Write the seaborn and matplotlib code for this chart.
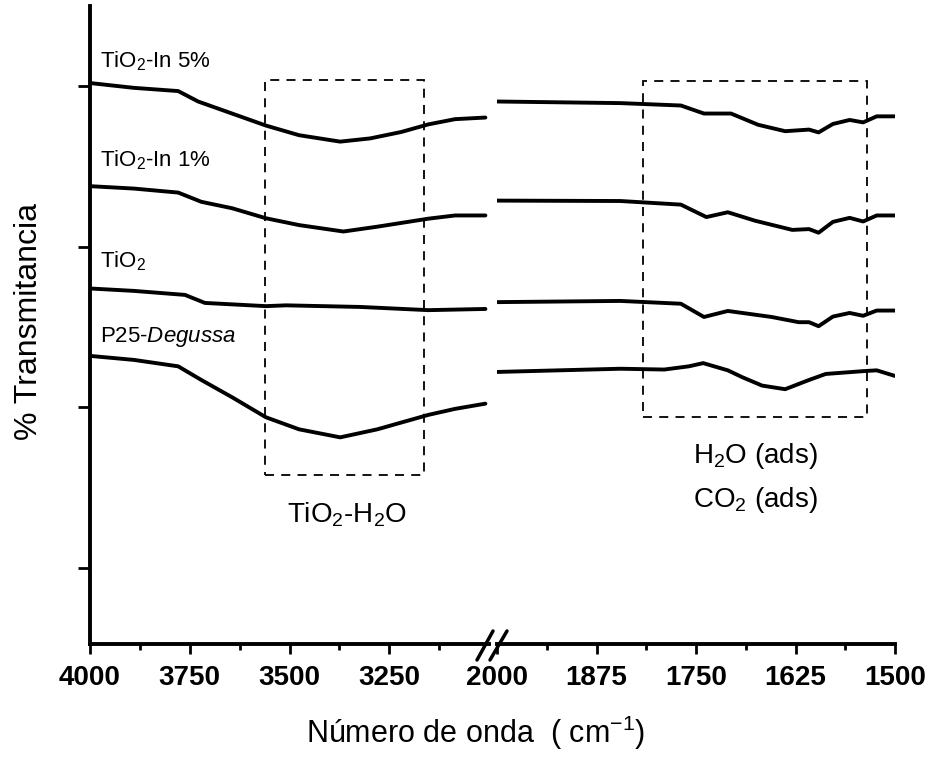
import matplotlib
matplotlib.use('Agg')
import pandas as pd
import matplotlib.pyplot as plt
import seaborn as sns
from matplotlib.lines import Line2D
from matplotlib.patches import Rectangle

#### datos (FTIR) ####
muestras = ['In5', 'In1', 'TiO2', 'P25']

# región 4000 - 3000 cm-1
wn_a_In5 = [4000, 3890, 3779, 3729, 3661, 3559, 3476, 3373, 3298, 3220, 3152, 3085, 3009]
t_a_In5 = [100.4, 99.8, 99.4, 98.1, 96.9, 95.1, 93.9, 93.1, 93.5, 94.3, 95.25, 95.9, 96.1]
wn_a_In1 = [4000, 3890, 3779, 3721, 3644, 3559, 3476, 3365, 3280, 3152, 3085, 3009]
t_a_In1 = [87.55, 87.25, 86.75, 85.6, 84.8, 83.55, 82.7, 81.9, 82.5, 83.5, 83.9, 83.9]
wn_a_TiO2 = [4000, 3890, 3762, 3712, 3559, 3509, 3323, 3152, 3009]
t_a_TiO2 = [74.8, 74.5, 74.0, 73.0, 72.6, 72.7, 72.5, 72.1, 72.25]
wn_a_P25 = [4000, 3890, 3779, 3721, 3644, 3559, 3476, 3373, 3280, 3152, 3085, 3009]
t_a_P25 = [66.4, 65.9, 65.1, 63.4, 61.25, 58.75, 57.25, 56.25, 57.25, 59.05, 59.8, 60.45]

# región 2000 - 1500 cm-1
wn_b_In5 = [2000, 1845, 1769, 1740, 1706, 1672, 1638, 1608, 1596, 1578, 1557, 1540, 1523, 1500]
t_b_In5 = [98.1, 97.9, 97.6, 96.6, 96.6, 95.2, 94.4, 94.6, 94.25, 95.3, 95.8, 95.5, 96.25, 96.25]
wn_b_In1 = [2000, 1845, 1769, 1737, 1710, 1676, 1629, 1608, 1596, 1578, 1557, 1540, 1523, 1500]
t_b_In1 = [85.75, 85.7, 85.25, 83.7, 84.3, 83.25, 82.1, 82.2, 81.75, 83.1, 83.6, 83.15, 83.9, 83.9]
wn_b_TiO2 = [2000, 1845, 1769, 1740, 1710, 1655, 1621, 1608, 1596, 1578, 1557, 1540, 1523, 1500]
t_b_TiO2 = [73.1, 73.25, 72.9, 71.25, 72.0, 71.25, 70.6, 70.6, 70.1, 71.3, 71.75, 71.4, 72.05, 72.05]
wn_b_P25 = [2000, 1845, 1790, 1759, 1741, 1710, 1692, 1667, 1638, 1608, 1587, 1540, 1523, 1500]
t_b_P25 = [64.4, 64.8, 64.7, 65.1, 65.5, 64.6, 63.75, 62.7, 62.25, 63.4, 64.15, 64.5, 64.6, 63.9]

# etiquetas
etiquetas = ['TiO$_2$-In 5%', 'TiO$_2$-In 1%', 'TiO$_2$', 'P25-$\\mathit{Degussa}$']
ticks_a = [4000, 3750, 3500, 3250]
ticks_b = [2000, 1875, 1750, 1625, 1500]

# cajas punteadas (wn_ini, wn_fin, T_abajo, T_arriba)
caja_a = (3561, 3162, 51.5, 100.75)
caja_b = (1817, 1535, 58.75, 100.6)


def tabla(wns, ts):
    partes = []
    for m, w, t in zip(muestras, wns, ts):
        partes.append(pd.DataFrame({'wn': w, 'T': t, 'muestra': m}))
    return pd.concat(partes, ignore_index=True)


datos_a = tabla([wn_a_In5, wn_a_In1, wn_a_TiO2, wn_a_P25],
                [t_a_In5, t_a_In1, t_a_TiO2, t_a_P25])
datos_b = tabla([wn_b_In5, wn_b_In1, wn_b_TiO2, wn_b_P25],
                [t_b_In5, t_b_In1, t_b_TiO2, t_b_P25])

#### estilo ####
sns.set_style('ticks', {'axes.edgecolor': 'black', 'text.color': 'black',
                        'xtick.color': 'black', 'ytick.color': 'black',
                        'axes.labelcolor': 'black'})
plt.rcParams['font.family'] = ['Liberation Sans', 'DejaVu Sans']
plt.rcParams['mathtext.fontset'] = 'custom'
plt.rcParams['mathtext.rm'] = 'Liberation Sans'
plt.rcParams['mathtext.it'] = 'Liberation Sans:italic'
plt.rcParams['mathtext.bf'] = 'Liberation Sans:bold'
plt.rcParams['mathtext.default'] = 'regular'

fig = plt.figure(figsize=(9.3, 7.61), dpi=100)
bottom = (761 - 644) / 761
height = (644 - 6) / 761
ax1 = fig.add_axes([90 / 930, bottom, 399 / 930, height])
ax2 = fig.add_axes([497 / 930, bottom, 398 / 930, height])

negro = ['black'] * 4
for ax, d in [(ax1, datos_a), (ax2, datos_b)]:
    sns.lineplot(data=d, x='wn', y='T', hue='muestra', palette=negro,
                 estimator=None, legend=False, lw=2.8, ax=ax)
    ax.set_ylim(30.5, 110)
    ax.set_xlabel('')
    ax.set_ylabel('')
    ax.spines['top'].set_visible(False)
    ax.spines['right'].set_visible(False)
    ax.spines['bottom'].set_linewidth(2.8)
    ax.spines['left'].set_linewidth(2.8)
    ax.tick_params(axis='x', which='major', length=7, width=2, pad=8,
                   direction='out')
    ax.tick_params(axis='x', which='minor', length=4.5, width=2,
                   direction='out')

ax1.set_xlim(4000, 3000)
ax1.set_xticks(ticks_a)
ax1.set_xticks([3875, 3625, 3375, 3125], minor=True)
ax1.set_yticks([100, 80, 60, 40])
ax1.set_yticklabels([])
ax1.tick_params(axis='y', length=9, width=2, direction='out')

ax2.set_xlim(2000, 1500)
ax2.set_xticks(ticks_b)
ax2.set_xticks([1937.5, 1812.5, 1687.5, 1562.5], minor=True)
ax2.spines['left'].set_visible(False)
ax2.set_yticks([])

for ax, tk in [(ax1, ticks_a), (ax2, ticks_b)]:
    ax.set_xticklabels([str(v) for v in tk], fontweight='bold', fontsize=20)

# cajas
for ax, c in [(ax1, caja_a), (ax2, caja_b)]:
    ax.add_patch(Rectangle((c[0], c[2]), c[1] - c[0], c[3] - c[2],
                           fill=False, ls=(0, (5, 4)), lw=1.3, ec='black'))

# etiquetas de las muestras
pos_y = [102.4, 90.0, 77.4, 68.1]
for txt, yy in zip(etiquetas, pos_y):
    ax1.text(3975, yy, txt, fontsize=16, va='baseline', ha='left')

ax1.text(3355, 45.6, 'TiO$_2$-H$_2$O', fontsize=20, ha='center', va='baseline')
ax2.text(1676, 53.0, 'H$_2$O (ads)', fontsize=20, ha='center', va='baseline')
ax2.text(1676, 47.6, 'CO$_2$ (ads)', fontsize=20, ha='center', va='baseline')

ax1.set_ylabel('% Transmitancia', fontsize=23)
ax1.yaxis.set_label_coords(-0.115, 0.506)

fig.text(476 / 930, 1 - 743 / 761, 'Número de onda  ( cm$^{-1}$)',
         fontsize=22, ha='center', va='baseline')

# marcas de corte del eje
for x0, x1 in [(477, 493), (490, 507)]:
    fig.add_artist(Line2D([x0 / 930, x1 / 930], [1 - 660 / 761, 1 - 631 / 761],
                          color='black', lw=2.5))

fig.savefig('out.png', dpi=100)
